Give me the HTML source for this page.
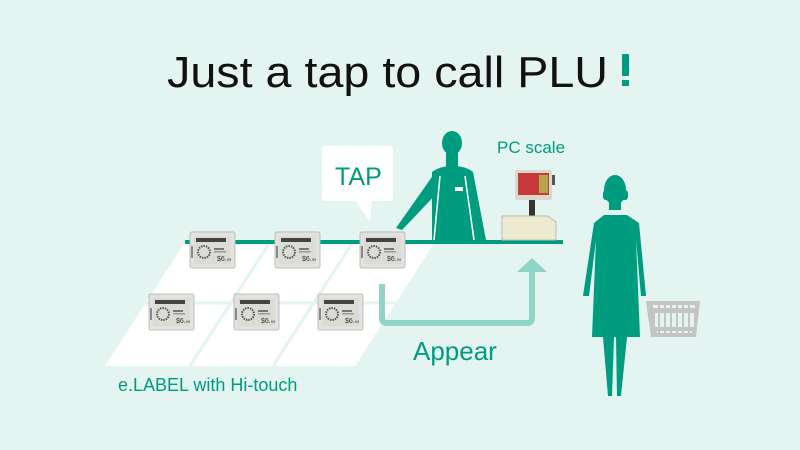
<!DOCTYPE html>
<html><head><meta charset="utf-8"><style>
html,body{margin:0;padding:0;background:#e4f4f1;}
svg{display:block;font-family:"Liberation Sans",sans-serif;}
</style></head><body>
<svg width="800" height="450" viewBox="0 0 800 450" xmlns="http://www.w3.org/2000/svg">
<defs>
<g id="lbl">
<rect x="0" y="0" width="45" height="36" rx="2" fill="#e2e2de" stroke="#bdbdb8" stroke-width="1"/>
<rect x="4" y="4" width="37" height="28" fill="#dcdcd6"/>
<rect x="6" y="6" width="30" height="4" fill="#444"/>
<circle cx="14" cy="20" r="6" fill="none" stroke="#555" stroke-width="2" stroke-dasharray="1.5 1"/>
<rect x="24" y="16" width="10" height="2" fill="#777"/>
<rect x="24" y="19" width="12" height="1.5" fill="#999"/>
<text x="27" y="29" font-size="7" fill="#333">$6.<tspan font-size="4">99</tspan></text>
<rect x="1" y="14" width="2" height="12" fill="#888"/>
</g>
</defs>
<rect width="800" height="450" fill="#e4f4f1"/>
<text x="167" y="87" font-size="44" fill="#111" textLength="441" lengthAdjust="spacingAndGlyphs">Just a tap to call PLU</text>
<rect x="622" y="54" width="7" height="22" rx="1" fill="#009c7f"/>
<rect x="622" y="80" width="7" height="6" fill="#009c7f"/>
<!-- floor -->
<polygon points="185,242 435,242 355,366 105,366" fill="#ffffff"/>
<g stroke="#e4f4f1" stroke-width="3">
<line x1="145" y1="303" x2="400" y2="303"/>
<line x1="270" y1="242" x2="190" y2="366"/>
<line x1="353" y1="242" x2="273" y2="366"/>
</g>
<!-- counter -->
<rect x="185" y="240" width="378" height="4" fill="#009c7f"/>
<!-- labels -->
<use href="#lbl" x="190" y="232"/>
<use href="#lbl" x="275" y="232"/>
<use href="#lbl" x="360" y="232"/>
<use href="#lbl" x="149" y="294"/>
<use href="#lbl" x="234" y="294"/>
<use href="#lbl" x="318" y="294"/>
<!-- arrow -->
<path d="M382,284 V318 Q382,323 387,323 H527 Q532,323 532,318 V268" fill="none" stroke="#8fd4c4" stroke-width="6"/>
<polygon points="517,272 532,258 547,272" fill="#8fd4c4"/>
<text x="413" y="360" font-size="26" fill="#009c7f">Appear</text>
<text x="118" y="391" font-size="18" fill="#009c7f">e.LABEL with Hi-touch</text>
<!-- TAP bubble -->
<rect x="322" y="146" width="71" height="55" rx="3" fill="#fff"/>
<polygon points="355,200 372,200 370,222" fill="#fff"/>
<text x="335" y="185" font-size="25" fill="#009c7f">TAP</text>
<text x="497" y="153" font-size="17" fill="#009c7f">PC scale</text>
<!-- clerk -->
<g fill="#009c7f">
<ellipse cx="452" cy="143" rx="10" ry="12"/>
<rect x="446" y="150" width="12" height="20"/>
<path d="M432,172 Q440,166 452,166 Q466,166 473,172 L486,240 L432,240 Z"/>
<path d="M434,174 L396,228 L402,230 L440,190 Z"/>
</g>
<g stroke="#fff" stroke-width="1.5" fill="none">
<path d="M440,176 L434,240"/>
<path d="M465,176 L474,240"/>
</g>
<rect x="455" y="187" width="8" height="4" fill="#fff"/>
<!-- scale -->
<rect x="515" y="170" width="37" height="30" rx="2" fill="#d9d9cf"/>
<rect x="518" y="173" width="31" height="22" fill="#c83a3a"/>
<rect x="539" y="175" width="9" height="18" fill="#b8a64a"/>
<rect x="552" y="175" width="3" height="10" fill="#555"/>
<rect x="529" y="200" width="6" height="16" fill="#333"/>
<path d="M502,216 L548,216 L556,222 L556,240 L502,240 Z" fill="#ecebcf" stroke="#bbb" stroke-width="1"/>
<!-- woman -->
<g fill="#009c7f">
<ellipse cx="615" cy="190" rx="11" ry="15"/>
<rect x="603" y="190" width="25" height="10" rx="3"/>
<rect x="609" y="200" width="12" height="10"/>
<path d="M594,223 L604,215 L627,215 L639,223 L646,296 L641,296 L636,240 L640,337 L592,337 L596,240 L589,296 L583,296 Z"/>
<path d="M603,337 L614,337 L612,396 L608,396 Z"/>
<path d="M616,337 L627,337 L621,396 L617,396 Z"/>
</g>
<!-- basket -->
<path d="M646,301 L700,301 L696,337 L651,337 Z" fill="#c4c4c4"/>
<g fill="#e4f4f1">
<rect x="653" y="305" width="42" height="3"/>
<rect x="655" y="313" width="39" height="14"/>
<rect x="657" y="331" width="35" height="2"/>
</g>
<g stroke="#c4c4c4" stroke-width="2">
<line x1="659" y1="303" x2="659" y2="336"/><line x1="665" y1="303" x2="665" y2="336"/>
<line x1="671" y1="303" x2="671" y2="336"/><line x1="677" y1="303" x2="677" y2="336"/>
<line x1="683" y1="303" x2="683" y2="336"/><line x1="689" y1="303" x2="689" y2="336"/>
</g>
</svg>
</body></html>
